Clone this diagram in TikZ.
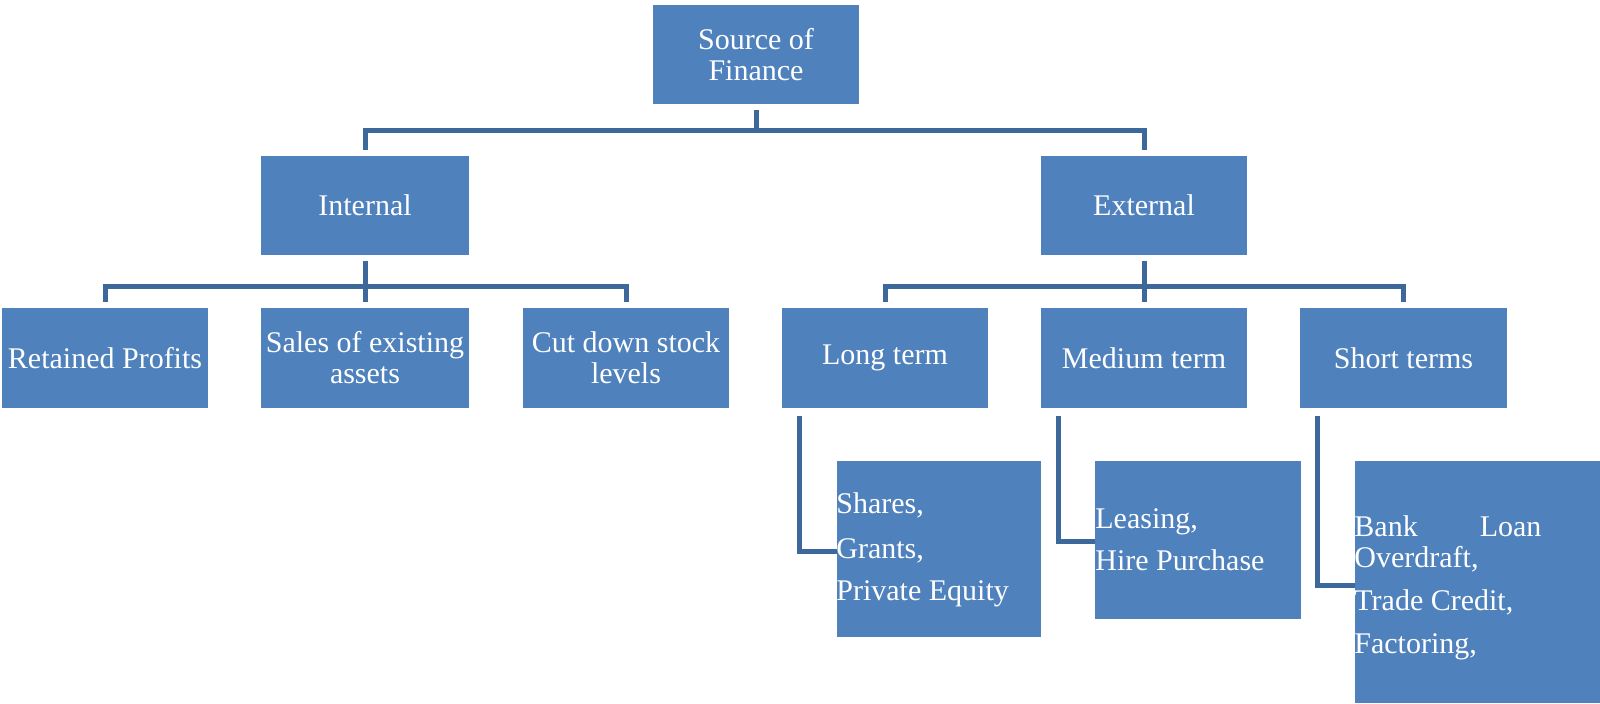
\documentclass[tikz,border=0pt]{standalone}
\usepackage{fontspec}
\setmainfont{Liberation Serif}
\definecolor{boxblue}{HTML}{4F81BD}
\definecolor{lineblue}{RGB}{60,104,156}
\begin{document}
\begin{tikzpicture}[x=0.5pt, y=-0.5pt,
  box/.style={fill=boxblue, text=white, inner sep=0pt, align=center,
    font=\fontsize{15}{15.5}\selectfont},
  conn/.style={draw=lineblue, line width=2.5pt, line join=miter},
  lt/.style={text=white, inner sep=0pt, anchor=base west,
    font=\fontsize{15}{15.5}\selectfont}]
\path[use as bounding box, fill=white] (0,0) rectangle (1600,703);
% level 0/1
\node[box, minimum width=103pt, minimum height=49.5pt] (src) at (756,54.5) {Source of\\Finance};
\node[box, minimum width=104pt, minimum height=49.5pt] (int) at (365,205.5) {Internal};
\node[box, minimum width=103pt, minimum height=49.5pt] (ext) at (1144,205.5) {External};
% level 2
\node[box, minimum width=103pt, minimum height=50pt] (ret) at (105,358) {Retained Profits};
\node[box, minimum width=104pt, minimum height=50pt] (sales) at (365,358) {Sales of existing\\assets};
\node[box, minimum width=103pt, minimum height=50pt] (cut) at (626,358) {Cut down stock\\levels};
\node[box, minimum width=103pt, minimum height=50pt] (long) at (885,358) {Long term};
\node[box, minimum width=103pt, minimum height=50pt] (med) at (1144,358) {Medium term};
\node[box, minimum width=103.5pt, minimum height=50pt] (short) at (1403.5,358) {Short terms};
% level 3
\node[box, minimum width=102pt, minimum height=88pt] (shares) at (939,549) {};
\node[box, minimum width=103pt, minimum height=79pt] (leasing) at (1198,540) {};
\node[box, minimum width=122.5pt, minimum height=121pt] (bank) at (1477.5,582) {};
% texts of level 3
\node[lt] (sh1) at (836,513) {Shares,};
\node[lt] (sh2) at (836,558) {Grants,};
\node[lt] (sh3) at (836,600) {Private Equity};
\node[lt] (le1) at (1095,528) {Leasing,};
\node[lt] (le2) at (1095,570) {Hire Purchase};
\node[lt] (ba1) at (1354,536) {\hbox to 93.5pt{Bank\hfill Loan}};
\node[lt] (ba2) at (1354,567) {Overdraft,};
\node[lt] (ba3) at (1354,610) {Trade Credit,};
\node[lt] (ba4) at (1354,653) {Factoring,};
% connectors level 0 -> 1
\coordinate (b0) at (756,130);
\draw[conn, shorten <=3pt] (src.south) -- (b0);
\draw[conn, shorten <=3pt, shorten >=3pt] (int.north) -- (int.north |- b0) -- (ext.north |- b0) -- (ext.north);
% connectors level 1 -> 2
\coordinate (b1) at (365,286);
\draw[conn, shorten <=3pt] (int.south) -- (b1);
\draw[conn, shorten <=3pt, shorten >=3pt] (ret.north) -- (ret.north |- b1) -- (cut.north |- b1) -- (cut.north);
\draw[conn, shorten >=3pt] (b1) -- (sales.north);
\coordinate (b2) at (1144,286);
\draw[conn, shorten <=3pt] (ext.south) -- (b2);
\draw[conn, shorten <=3pt, shorten >=3pt] (long.north) -- (long.north |- b2) -- (short.north |- b2) -- (short.north);
\draw[conn, shorten >=3pt] (b2) -- (med.north);
% elbows level 2 -> 3
\coordinate (e1) at (799,551);
\coordinate (e2) at (1058,541);
\coordinate (e3) at (1317,585);
\draw[conn, shorten <=4pt] (long.south -| e1) |- (shares.west |- e1);
\draw[conn, shorten <=4pt] (med.south -| e2) |- (leasing.west |- e2);
\draw[conn, shorten <=4pt] (short.south -| e3) |- (bank.west |- e3);
\end{tikzpicture}
\end{document}
